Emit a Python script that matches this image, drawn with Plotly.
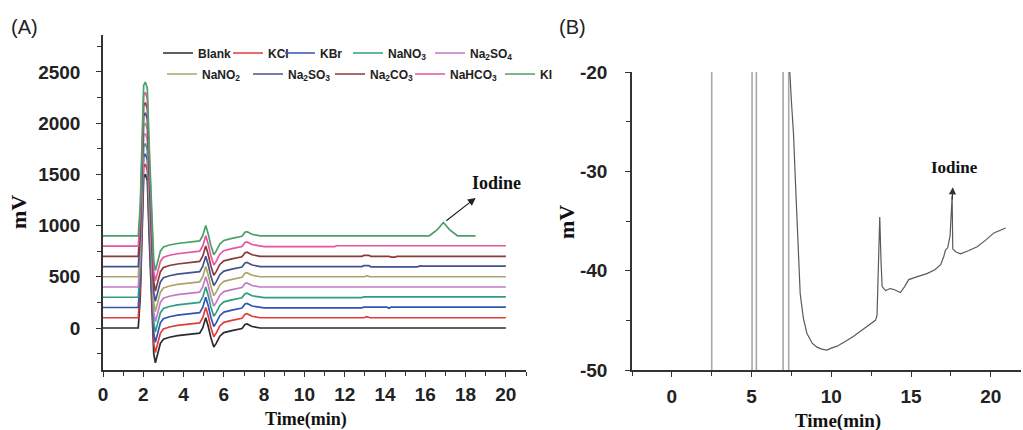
import plotly.graph_objects as go

# ---------------- Panel A data ----------------
SERIES_NAMES = ["Blank", "KCl", "KBr", "NaNO<sub>3</sub>", "Na<sub>2</sub>SO<sub>4</sub>",
                "NaNO<sub>2</sub>", "Na<sub>2</sub>SO<sub>3</sub>", "Na<sub>2</sub>CO<sub>3</sub>",
                "NaHCO<sub>3</sub>", "KI"]
SERIES_COLORS = ["#2b2b2b", "#e03c3c", "#3553b5", "#2f9c86", "#c27ac2",
                 "#aaa66a", "#44538f", "#8b3a3a", "#e8559e", "#4aa06a"]
SERIES_OFFSETS = [0, 100, 200, 300, 400, 500, 600, 700, 800, 900]

# shared early chromatogram shape (relative to each baseline)
EARLY_T = [0, 1.75, 1.85, 1.95, 2.02, 2.1, 2.2, 2.3, 2.42, 2.52, 2.6, 2.7, 2.85, 3.0,
           3.3, 3.7, 4.2, 4.8, 4.95, 5.1, 5.22, 5.35, 5.5, 5.62, 5.8, 6.0, 6.4, 6.9,
           7.05, 7.15, 7.4, 7.8]
EARLY_MV = [0, 0, 300, 1000, 1470, 1500, 1440, 850, 150, -250, -340, -270, -150, -110,
            -90, -75, -65, -50, 0, 100, 20, -90, -185, -150, -80, -45, -25, -5,
            35, 40, 15, 0]

# late part of each trace (relative to its baseline)
TAIL_T_BLANK = [8, 13.0, 13.1, 13.2, 20]
TAIL_MV_BLANK = [0, 0, 6, 0, 0]
TAIL_T_KCL = [8, 12.95, 13.1, 13.25, 20]
TAIL_MV_KCL = [0, 0, 10, 0, 0]
TAIL_T_KBR = [8, 12.85, 12.95, 14.1, 14.2, 14.3, 20]
TAIL_MV_KBR = [-3, -3, 3, 3, -7, 3, 3]
TAIL_T_NANO3 = [8, 12.85, 12.95, 20]
TAIL_MV_NANO3 = [-3, -3, 3, 3]
TAIL_T_NA2SO4 = [8, 20]
TAIL_MV_NA2SO4 = [0, 0]
TAIL_T_NANO2 = [8, 13.0, 13.1, 13.25, 20]
TAIL_MV_NANO2 = [0, 0, 10, 0, 0]
TAIL_T_NA2SO3 = [8, 12.85, 12.95, 13.2, 13.3, 15.6, 15.75, 15.9, 20]
TAIL_MV_NA2SO3 = [0, 0, 8, 8, -3, -3, 6, 3, 3]
TAIL_T_NA2CO3 = [8, 12.85, 12.95, 13.2, 13.3, 14.2, 14.3, 14.5, 14.6, 20]
TAIL_MV_NA2CO3 = [0, 0, 8, 8, 0, 0, -8, -8, 0, 0]
TAIL_T_NAHCO3 = [8, 11.5, 11.6, 20]
TAIL_MV_NAHCO3 = [-5, -5, 3, 3]
TAIL_T_KI = [8, 16.2, 16.6, 16.9, 17.2, 17.6, 18.5]
TAIL_MV_KI = [0, 0, 60, 130, 60, 0, 0]

TAILS_T = [TAIL_T_BLANK, TAIL_T_KCL, TAIL_T_KBR, TAIL_T_NANO3, TAIL_T_NA2SO4,
           TAIL_T_NANO2, TAIL_T_NA2SO3, TAIL_T_NA2CO3, TAIL_T_NAHCO3, TAIL_T_KI]
TAILS_MV = [TAIL_MV_BLANK, TAIL_MV_KCL, TAIL_MV_KBR, TAIL_MV_NANO3, TAIL_MV_NA2SO4,
            TAIL_MV_NANO2, TAIL_MV_NA2SO3, TAIL_MV_NA2CO3, TAIL_MV_NAHCO3, TAIL_MV_KI]

# legend text start x (px) and row y (px)
LEGEND_TEXT_X = [198, 268, 320, 388, 470, 202, 288, 370, 450, 540]
LEGEND_ROW_Y = [53, 53, 53, 53, 53, 74, 74, 74, 74, 74]

# ---------------- Panel B data ----------------
SPIKE_T = [2.5, 2.5, None, 5.03, 5.03, None, 5.3, 5.3, None, 6.98, 6.98, None, 7.33, 7.33]
SPIKE_MV = [-55, -15, None, -55, -15, None, -55, -15, None, -55, -15, None, -55, -15]

B_T = [7.36, 7.4, 7.5, 7.63, 7.75, 7.88, 8.05, 8.25, 8.47, 8.8, 9.1, 9.4, 9.73,
       10.0, 10.36, 10.9, 11.4, 12.0, 12.5, 12.77, 12.87, 12.95, 13.04, 13.12, 13.19,
       13.4, 13.7, 13.92, 14.15, 14.34, 14.6, 14.86, 15.4, 16.0, 16.5, 16.86, 17.05,
       17.17, 17.3, 17.45, 17.58, 17.62, 17.8, 18.1, 18.6, 19.15, 19.7, 20.2, 20.94]
B_MV = [-15, -20, -23, -26.2, -31, -36.2, -42.3, -44.8, -46.3, -47.3, -47.7, -47.9,
        -48.0, -47.8, -47.6, -47.1, -46.6, -45.9, -45.3, -45.0, -44.5, -40, -34.6, -39,
        -41.6, -42.0, -41.8, -41.9, -42.1, -42.2, -41.6, -40.9, -40.6, -40.3, -39.9,
        -39.4, -38.6, -37.9, -37.7, -36.5, -32.5, -37.8, -38.1, -38.3, -38.0, -37.6,
        -36.9, -36.2, -35.7]
B_YTICKS = [-50, -40, -30, -20]
B_YTICKTEXT = ["-50", "-40", "-30", "-20"]

W, H = 1023, 430
SANS = "Liberation Sans, Arial, sans-serif"
SERIF = "Liberation Serif, Times New Roman, serif"
INK = "#222222"

fig = go.Figure()

for i, name in enumerate(SERIES_NAMES):
    off = SERIES_OFFSETS[i]
    xs = EARLY_T + TAILS_T[i]
    ys = [v + off for v in EARLY_MV] + [v + off for v in TAILS_MV[i]]
    lg = "legend" if i == 0 else f"legend{i + 1}"
    fig.add_trace(go.Scatter(x=xs, y=ys, mode="lines", name=name,
                             line=dict(color=SERIES_COLORS[i], width=1.7),
                             xaxis="x", yaxis="y", legend=lg, showlegend=True))

fig.add_trace(go.Scatter(x=SPIKE_T, y=SPIKE_MV, mode="lines", line=dict(color="#a8a8a8", width=1.6),
                         xaxis="x2", yaxis="y2", showlegend=False, connectgaps=False))
fig.add_trace(go.Scatter(x=B_T, y=B_MV, mode="lines", line=dict(color="#5a5a5a", width=1.2),
                         xaxis="x2", yaxis="y2", showlegend=False))

axis_common = dict(showline=True, linecolor="#333333", linewidth=1.5, ticks="outside",
                   ticklen=5, tickwidth=1.3, tickcolor="#333333", showgrid=False,
                   zeroline=False, automargin=False,
                   tickfont=dict(family=SANS, size=19, color=INK, weight="bold"))

layout = dict(
    width=W, height=H, margin=dict(l=0, r=0, t=0, b=0, autoexpand=False),
    paper_bgcolor="white", plot_bgcolor="white",
    xaxis=dict(domain=[103 / W, 526 / W], range=[0, 21], tick0=0, dtick=2,
               minor=dict(dtick=1, ticks="outside", ticklen=4, tickcolor="#333333"),
               anchor="y", ticklabelstandoff=1, **axis_common),
    yaxis=dict(domain=[1 - 370 / H, 1 - 35 / H], range=[-410, 2860], tick0=0, dtick=500,
               minor=dict(dtick=250, ticks="outside", ticklen=4, tickcolor="#333333"),
               anchor="x", ticklabelstandoff=12, **axis_common),
    xaxis2=dict(domain=[632 / W, 1021 / W], range=[-2.5, 21.9], tick0=0, dtick=5,
                minor=dict(dtick=2.5, ticks="outside", ticklen=4, tickcolor="#333333"),
                anchor="y2", ticklabelstandoff=3, **axis_common),
    yaxis2=dict(domain=[1 - 370 / H, 1 - 72 / H], range=[-50, -20],
                tickmode="array", tickvals=B_YTICKS, ticktext=B_YTICKTEXT,
                minor=dict(dtick=5, tick0=-50, ticks="outside", ticklen=4, tickcolor="#333333"),
                anchor="x2", ticklabelstandoff=14, **axis_common),
    showlegend=True,
)

for i in range(len(SERIES_NAMES)):
    key = "legend" if i == 0 else f"legend{i + 1}"
    layout[key] = dict(x=(LEGEND_TEXT_X[i] - 40) / W, xanchor="left",
                       y=1 - LEGEND_ROW_Y[i] / H, yanchor="middle",
                       bgcolor="rgba(0,0,0,0)", borderwidth=0,
                       font=dict(family=SANS, size=12, color=INK, weight="bold"),
                       orientation="h", tracegroupgap=0)

fig.update_layout(**layout)


def label(text, px, py, size, family, bold=False, angle=0, color="#111"):
    return dict(text=text, x=px / W, y=1 - py / H, xref="paper", yref="paper",
                xanchor="center", yanchor="middle", showarrow=False, textangle=angle,
                font=dict(family=family, size=size, color=color,
                          weight="bold" if bold else "normal"))


ann = [
    label("(A)", 24, 27, 20, SANS, color=INK),
    label("(B)", 572, 27, 20, SANS, color=INK),
    label("mV", 18, 212, 22, SERIF, bold=True, angle=-90),
    label("mV", 566, 222, 22, SERIF, bold=True, angle=-90),
    label("Time(min)", 306, 419, 18, SERIF, bold=True),
    label("Time(min)", 838, 421, 19, SERIF, bold=True),
    label("Iodine", 496, 183, 18, SERIF, bold=True),
    label("Iodine", 954, 167, 17, SERIF, bold=True),
    dict(x=18.5, y=1270, ax=16.97, ay=1035, xref="x", yref="y", axref="x", ayref="y",
         showarrow=True, arrowhead=2, arrowsize=1.3, arrowwidth=1.2, arrowcolor="#222", text=""),
    dict(x=17.62, y=-31.6, ax=17.58, ay=-33.0, xref="x2", yref="y2", axref="x2", ayref="y2",
         showarrow=True, arrowhead=2, arrowsize=1.2, arrowwidth=1.2, arrowcolor="#333", text=""),
]
fig.update_layout(annotations=ann)

fig.write_html("out.html")
